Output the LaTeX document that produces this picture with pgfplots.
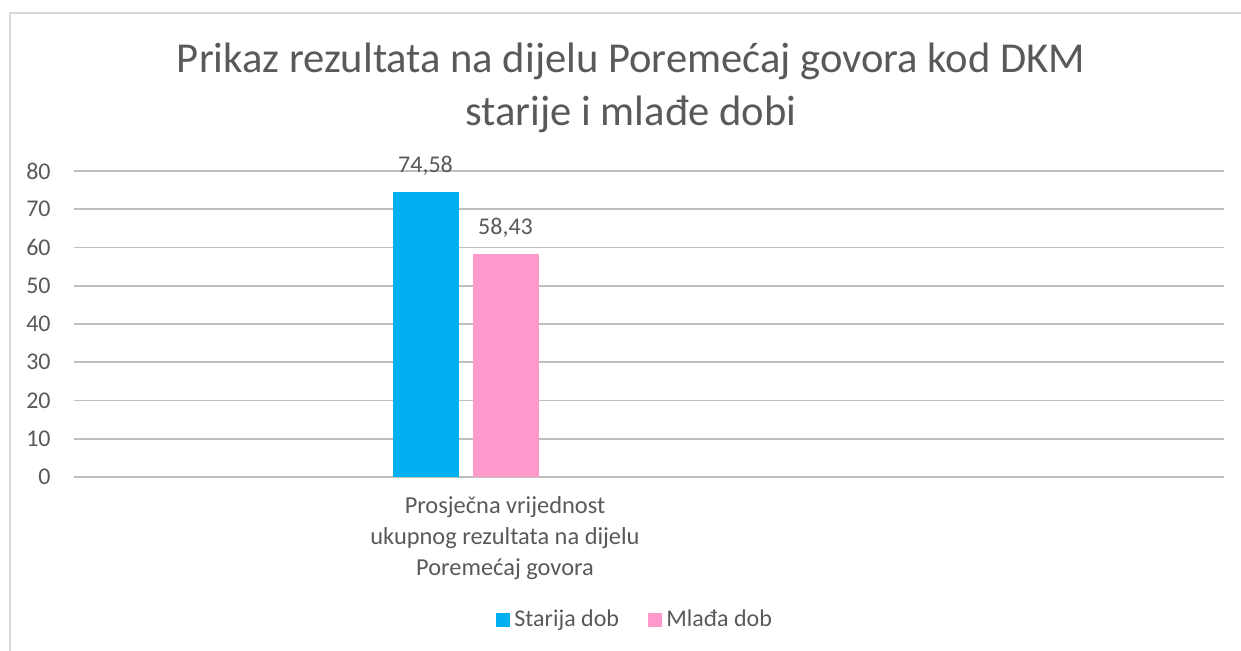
\documentclass[border=0pt]{standalone}
\usepackage{fontspec}
\setmainfont{Carlito}
\usepackage{pgfplots}
\pgfplotsset{compat=1.18}
\definecolor{txt}{HTML}{595959}
\definecolor{grid}{HTML}{D9D9D9}
\definecolor{cblue}{HTML}{00B0F0}
\definecolor{cpink}{HTML}{FF99CC}
\begin{document}
\begin{tikzpicture}
\useasboundingbox (0,0) rectangle (620.5pt,325.5pt);
\draw[grid,line width=0.8pt] (5pt,0pt) -- (5pt,319pt) -- (620.5pt,319pt);
\begin{axis}[
  at={(37pt,87pt)}, anchor=south west,
  width=575pt, height=153pt, scale only axis,
  xmin=-431, xmax=719, ymin=0, ymax=80,
  ytick={0,10,...,80},
  xtick={0},
  xticklabels={{Prosječna vrijednost\\ukupnog rezultata na dijelu\\Poremećaj govora}},
  axis line style={draw=none},
  major tick length=0pt, tick style={draw=none},
  xmajorgrids=false,
  ymajorgrids, grid style={grid,line width=0.8pt},
  /pgf/number format/assume math mode=true,
  /pgf/number format/use comma,
  tick label style={text=txt,font=\fontsize{12}{14}\selectfont},
  yticklabel style={anchor=east,inner sep=0pt,xshift=-11.5pt},
  xticklabel style={align=center,anchor=north,inner sep=0pt,yshift=-9.5pt,font=\fontsize{12.2}{15.5}\selectfont},
  ybar, bar width=66,
  nodes near coords,
  nodes near coords style={text=txt,font=\fontsize{12}{14}\selectfont,anchor=south,inner sep=0pt,yshift=8pt,
    /pgf/number format/.cd,fixed,precision=2,fixed zerofill,use comma,assume math mode=true},
  legend style={at={(axis cs:131,-37.4)},anchor=center,draw=none,fill=none,
    legend columns=2,font=\fontsize{12}{14}\selectfont,text=txt,
    /tikz/every even column/.append style={column sep=12.5pt}},
  legend image code/.code={\fill[#1,draw=none] (0pt,-3.6pt) rectangle (7.2pt,3.6pt);},
  legend cell align=left,
]
\addplot[fill=cblue,draw=none,bar shift=-79.5] coordinates {(0,74.58)};
\addplot[fill=cpink,draw=none,bar shift=0.5] coordinates {(0,58.43)};
\legend{Starija dob,Mlađa dob}
\end{axis}
\node[anchor=base,text=txt,font=\fontsize{21.3}{25}\selectfont] at (315.5pt,289pt) {Prikaz rezultata na dijelu Poremećaj govora kod DKM};
\node[anchor=base,text=txt,font=\fontsize{21.3}{25}\selectfont] at (315.5pt,262.5pt) {starije i mlađe dobi};
\end{tikzpicture}
\end{document}
